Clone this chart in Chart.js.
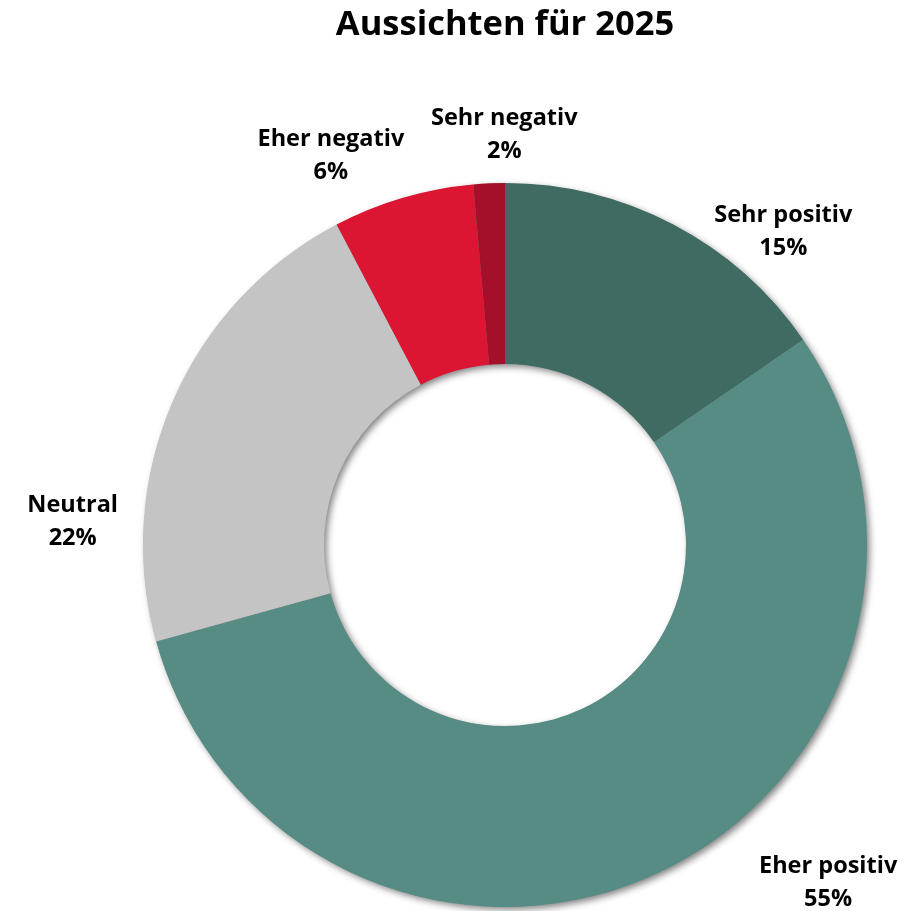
<!DOCTYPE html>
<html>
<head>
<meta charset="utf-8">
<script src="https://cdn.jsdelivr.net/npm/chart.js@4.4.1/dist/chart.umd.min.js"></script>
<style>
  html, body { margin: 0; padding: 0; background: #ffffff; }
  #wrap { width: 916px; height: 911px; position: relative; }
</style>
</head>
<body>
<div id="wrap"><canvas id="c" width="916" height="911"></canvas></div>
<script>
// ---- data ----
const categories = ["Sehr positiv", "Eher positiv", "Neutral", "Eher negativ", "Sehr negativ"];
const shares = [15.4, 55.3, 21.6, 6.3, 1.4];          // slice sizes (%)
const shownPercent = ["15%", "55%", "22%", "6%", "2%"]; // labels as printed
const titleText = "Aussichten für 2025";

// ---- styles ----
const sliceColors = ["#3f6b63", "#578c85", "#c4c4c4", "#dc1533", "#a41029"];
const FONT = "'Open Sans', 'Noto Sans', sans-serif";
// label placement: angle (deg, clockwise from 12 o'clock) and distance in outer radii
const labelPlacement = [
  { angle: 41.6, dist: 1.158 },
  { angle: 136.3, dist: 1.292 },
  { angle: 273.1, dist: 1.196 },
  { angle: 335.9, dist: 1.178 },
  { angle: 359.9, dist: 1.134 }
];

const ringShadow = {
  id: 'ringShadow',
  beforeDatasetsDraw(chart) {
    const meta = chart.getDatasetMeta(0);
    const a = meta.data[0];
    if (!a) return;
    const { x, y, outerRadius, innerRadius } = a.getProps(['x', 'y', 'outerRadius', 'innerRadius'], true);
    const ctx = chart.ctx;
    ctx.save();
    ctx.shadowColor = 'rgba(0,0,0,0.5)';
    ctx.shadowBlur = 7;
    ctx.shadowOffsetX = 3;
    ctx.shadowOffsetY = 3;
    ctx.fillStyle = '#888888';
    ctx.beginPath();
    ctx.arc(x, y, outerRadius - 0.5, 0, Math.PI * 2, false);
    ctx.arc(x, y, innerRadius + 0.5, Math.PI * 2, 0, true);
    ctx.closePath();
    ctx.fill('evenodd');
    ctx.restore();
  }
};

const outsideLabels = {
  id: 'outsideLabels',
  afterDatasetsDraw(chart) {
    const meta = chart.getDatasetMeta(0);
    const a = meta.data[0];
    if (!a) return;
    const { x, y, outerRadius } = a.getProps(['x', 'y', 'outerRadius'], true);
    const ctx = chart.ctx;
    ctx.save();
    ctx.fillStyle = '#000000';
    ctx.font = "bold 23.5px " + FONT;
    ctx.textAlign = 'center';
    ctx.textBaseline = 'middle';
    const lineGap = 33;
    categories.forEach((cat, i) => {
      const p = labelPlacement[i];
      const ang = p.angle * Math.PI / 180;
      const cx = x + Math.sin(ang) * outerRadius * p.dist;
      const cy = y - Math.cos(ang) * outerRadius * p.dist;
      ctx.fillText(cat, cx, cy - lineGap / 2);
      ctx.fillText(shownPercent[i], cx, cy + lineGap / 2);
    });
    ctx.restore();
  }
};

new Chart(document.getElementById('c'), {
  type: 'doughnut',
  data: {
    labels: categories,
    datasets: [{
      data: shares,
      backgroundColor: sliceColors,
      borderWidth: 0,
      hoverOffset: 0
    }]
  },
  options: {
    responsive: false,
    animation: false,
    cutout: '50%',
    rotation: 0,
    layout: { padding: { top: 0, bottom: 4, left: 94, right: 0 } },
    plugins: {
      legend: { display: false },
      tooltip: { enabled: false },
      title: {
        display: true,
        text: titleText,
        color: '#000000',
        font: { family: FONT, size: 34.5, weight: 'bold', lineHeight: 1.2 },
        padding: { top: 4, bottom: 137.6 }
      }
    }
  },
  plugins: [ringShadow, outsideLabels]
});
</script>
</body>
</html>
